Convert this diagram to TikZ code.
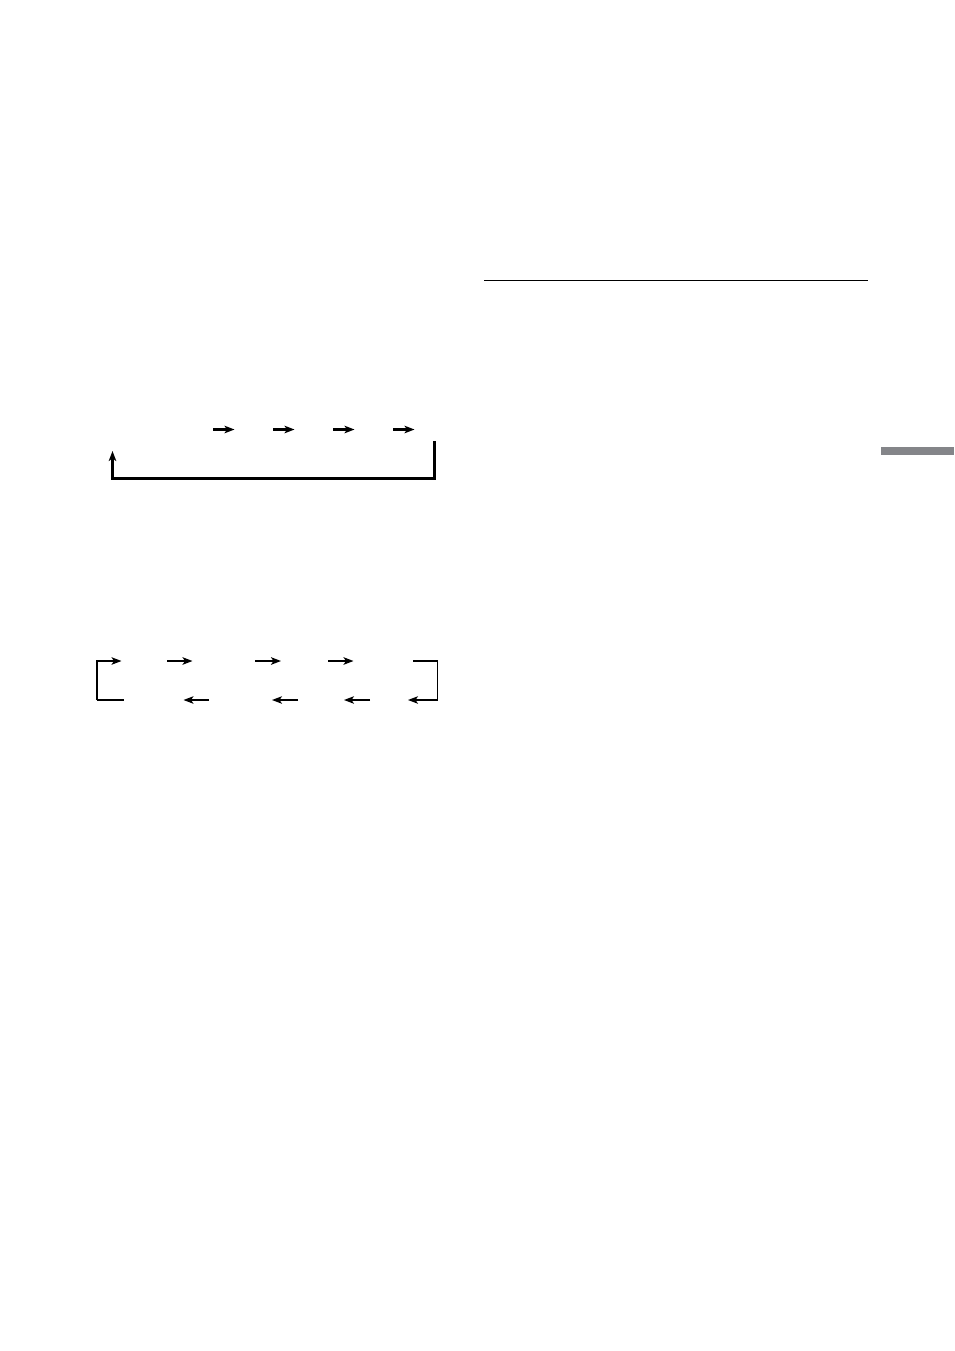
\documentclass[tikz,border=0pt]{standalone}
\usetikzlibrary{arrows.meta}
\definecolor{tabgray}{HTML}{848589}
\begin{document}
\begin{tikzpicture}[x=1pt,y=-1pt,
  arr/.style={-{Stealth[length=10pt,width=7.5pt,inset=2.5pt]}},
  thick1/.style={line width=2.1pt},
  thin1/.style={line width=1.3pt}]
\useasboundingbox (0,0) rectangle (954,1351);
% top rule
\coordinate (r1) at (484,280.5);
\coordinate (r2) at (868,280.5);
\draw[line width=1.2pt] (r1) -- (r2);
% gray tab
\fill[tabgray] (881,446.5) rectangle (954,455);
% first diagram: forward arrows
\foreach \i/\x in {1/213,2/273,3/333,4/393}{
  \coordinate (a\i s) at (\x,429.5);
  \coordinate (a\i e) at (\x+21.5,429.5);
  \draw[thick1,arr] (a\i s) -- (a\i e);
}
% loop back
\coordinate (l1) at (434.5,441);
\coordinate (l2) at (434.5,478.5);
\coordinate (l3) at (112.5,478.5);
\coordinate (l4) at (112.5,451);
\draw[thick1,arr] (l1) -- (l2) -- (l3) -- (l4);
% second diagram top row
\coordinate (b0a) at (97,700);
\coordinate (b0b) at (97,661);
\coordinate (b0c) at (121.5,661);
\draw[thin1,arr] (b0a) -- (b0b) -- (b0c);
\coordinate (b0d) at (124,700);
\draw[thin1] (b0a) -- (b0d);
\foreach \i/\x/\xe in {2/167/192.5,3/255/281,4/328/353.5}{
  \coordinate (t\i s) at (\x,661);
  \coordinate (t\i e) at (\xe,661);
  \draw[line width=1.8pt,arr] (t\i s) -- (t\i e);
}
% right corner
\coordinate (c1) at (413,661);
\coordinate (c2) at (437.5,661);
\coordinate (c3) at (437.5,700);
\coordinate (c4) at (408,700);
\draw[line width=1.8pt] (c1) -- (c2);
\draw[thin1,arr] (c2) -- (c3) -- (c4);
% bottom row left arrows
\foreach \i/\x/\xe in {1/209/183.5,2/298/272,3/370/344}{
  \coordinate (u\i s) at (\x,700);
  \coordinate (u\i e) at (\xe,700);
  \draw[thin1,arr] (u\i s) -- (u\i e);
}
\end{tikzpicture}
\end{document}
